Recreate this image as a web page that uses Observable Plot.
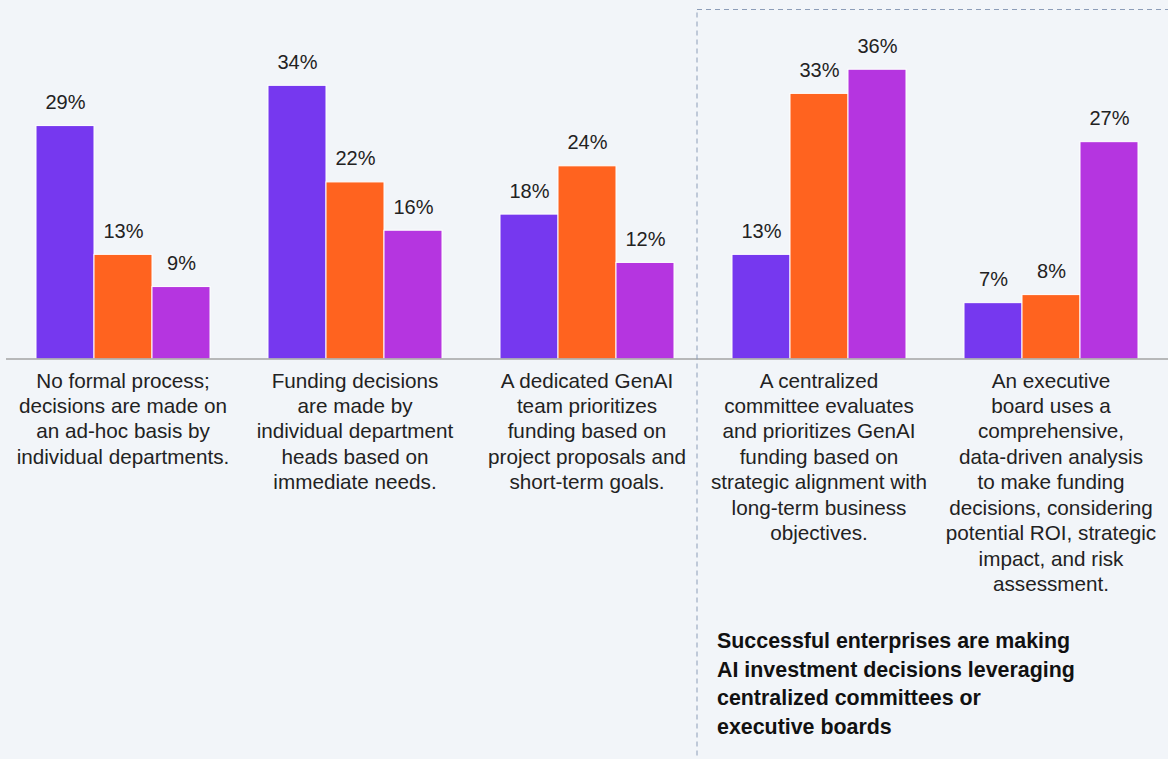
<!DOCTYPE html>
<html>
<head>
<meta charset="utf-8">
<script src="https://cdn.jsdelivr.net/npm/d3@7"></script>
<script src="https://cdn.jsdelivr.net/npm/@observablehq/plot@0.6"></script>
<style>
  html, body { margin: 0; padding: 0; background: #f2f5f9; overflow: hidden; }
  #wrap { position: relative; width: 1168px; height: 759px; font-family: "Liberation Sans", Arial, sans-serif; }
  #note { position: absolute; left: 717px; top: 627px; font-weight: bold; font-size: 21.4px; line-height: 28.5px; color: #111; white-space: pre; }
</style>
</head>
<body>
<div id="wrap"></div>
<script>
const categories = [
  "No formal process;\ndecisions are made on\nan ad-hoc basis by\nindividual departments.",
  "Funding decisions\nare made by\nindividual department\nheads based on\nimmediate needs.",
  "A dedicated GenAI\nteam prioritizes\nfunding based on\nproject proposals and\nshort-term goals.",
  "A centralized\ncommittee evaluates\nand prioritizes GenAI\nfunding based on\nstrategic alignment with\nlong-term business\nobjectives.",
  "An executive\nboard uses a\ncomprehensive,\ndata-driven analysis\nto make funding\ndecisions, considering\npotential ROI, strategic\nimpact, and risk\nassessment."
];
const series = ["Series 1", "Series 2", "Series 3"];
const series1Values = [29, 34, 18, 13, 7];
const series2Values = [13, 22, 24, 33, 8];
const series3Values = [9, 16, 12, 36, 27];
const seriesColors = ["#7638ef", "#ff631f", "#b535e0"];
const note = "Successful enterprises are making\nAI investment decisions leveraging\ncentralized committees or\nexecutive boards";

const valuesBySeries = [series1Values, series2Values, series3Values];
const rows = categories.flatMap((c, i) => series.map((s, j) => ({category: c, series: s, value: valuesBySeries[j][i]})));

const plot = Plot.plot({
  width: 1168,
  height: 759,
  marginLeft: 6,
  marginRight: 1,
  marginTop: 0,
  marginBottom: 400,
  style: {background: "transparent", fontFamily: "'Liberation Sans', Arial, sans-serif", overflow: "visible"},
  fx: {domain: categories, paddingInner: 0.246, paddingOuter: 0.123, axis: null, label: null},
  x: {domain: series, padding: 0, axis: null},
  y: {domain: [0, 44.6], axis: null},
  color: {domain: series, range: seriesColors},
  marks: [
    Plot.barY(rows, {fx: "category", x: "series", y: "value", fill: "series", stroke: "white", strokeWidth: 1}),
    Plot.text(rows, {fx: "category", x: "series", y: "value", text: d => d.value + "%", lineAnchor: "bottom", dy: -17, fontSize: 20, fill: "#222"}),
    Plot.text(categories, {fx: d => d, text: d => d, frameAnchor: "bottom", lineAnchor: "top", dy: 10, fontSize: 20.7, lineHeight: 1.23, fill: "#222"})
  ]
});

const wrap = document.getElementById("wrap");
wrap.appendChild(plot);

const svg = d3.select(plot);
const yScale = plot.scale("y");
const fxScale = plot.scale("fx");
const y0 = yScale.apply(0);
svg.append("line")
  .attr("x1", 6).attr("x2", 1168)
  .attr("y1", y0).attr("y2", y0)
  .attr("stroke", "#a3a3a3").attr("stroke-width", 1.5);

const boxLeft = fxScale.apply(categories[3]) - 34;
svg.append("rect")
  .attr("x", boxLeft).attr("y", 9.5)
  .attr("width", 1168 - boxLeft + 20).attr("height", 800)
  .attr("fill", "none")
  .attr("stroke", "#8c9db8").attr("stroke-width", 1)
  .attr("stroke-dasharray", "5,4");

const n = document.createElement("div");
n.id = "note";
n.textContent = note;
wrap.appendChild(n);
</script>
</body>
</html>
